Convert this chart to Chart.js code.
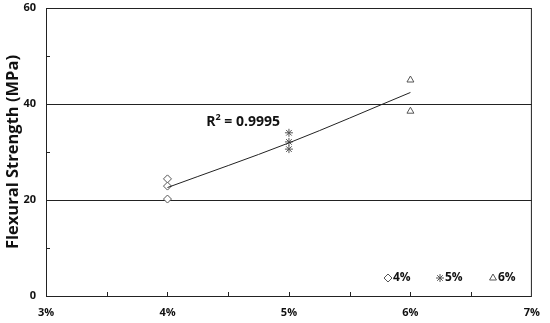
<!DOCTYPE html>
<html lang="en">
<head>
    <meta charset="UTF-8">
    <title>Flexural Strength</title>
    <script src="https://cdn.jsdelivr.net/npm/chart.js"></script>
    <style>
        body { margin: 0; background: #fff; }
        #wrap { width: 550px; height: 323px; }
    </style>
</head>
<body>
    <div id="wrap"><canvas id="chart" width="550" height="323"></canvas></div>

    <script>
        // Data
        const xTicks = [3, 4, 5, 6, 7];
        const yTicks = [0, 20, 40, 60];
        const fiber4 = [24.4, 22.9, 20.2];
        const fiber5 = [34.0, 32.1, 30.6];
        const fiber6 = [45.0, 38.5];
        const trendX = [4, 5, 6];
        const trendY = [22.6, 31.9, 42.4];
        const rSquared = '0.9995';

        const FONT = "'Open Sans', 'Noto Sans', sans-serif";
        const markColor = '#555';

        const pts = (x, arr) => arr.map(v => ({ x: x, y: v }));

        // Border, inner ticks, R² label and in-plot legend
        const extras = {
            id: 'extras',
            afterDraw(chart) {
                const c = chart.ctx;
                const a = chart.chartArea;
                const xs = chart.scales.x, ys = chart.scales.y;
                c.save();
                c.strokeStyle = '#222';
                c.lineWidth = 1;
                c.strokeRect(a.left + 0.5, a.top + 0.5, a.right - a.left - 1, a.bottom - a.top);

                c.beginPath();
                for (let v = 3.5; v < 7; v += 0.5) {
                    const px = Math.round(xs.getPixelForValue(v)) + 0.5;
                    c.moveTo(px, a.bottom);
                    c.lineTo(px, a.bottom - 4);
                }
                for (let v = 10; v < 60; v += 10) {
                    const py = Math.round(ys.getPixelForValue(v)) + 0.5;
                    c.moveTo(a.left, py);
                    c.lineTo(a.left + 4, py);
                }
                c.stroke();

                // R² label
                let tx = xs.getPixelForValue(4.32);
                const ty = ys.getPixelForValue(35.5);
                c.fillStyle = '#111';
                c.textBaseline = 'alphabetic';
                c.font = 'bold 14px ' + FONT;
                c.fillText('R', tx, ty);
                tx += c.measureText('R').width;
                c.font = 'bold 9px ' + FONT;
                c.fillText('2', tx, ty - 6);
                tx += c.measureText('2').width;
                c.font = 'bold 14px ' + FONT;
                c.fillText(' = ' + rSquared, tx, ty);

                // legend
                const ly = a.bottom - 18;
                const items = [
                    { label: '4%', style: 'rectRot' },
                    { label: '5%', style: 'star' },
                    { label: '6%', style: 'triangle' }
                ];
                c.font = 'bold 12px ' + FONT;
                c.textBaseline = 'middle';
                items.forEach((it, i) => {
                    const lx = [388, 440, 493][i];
                    c.strokeStyle = markColor;
                    c.fillStyle = '#fff';
                    c.lineWidth = 1;
                    Chart.helpers.drawPoint(c, { pointStyle: it.style, radius: 4, borderWidth: 1 }, lx, ly);
                    c.fillStyle = '#111';
                    c.fillText(it.label, lx + 5, ly);
                });
                c.restore();
            }
        };

        const markerBase = {
            showLine: false,
            borderColor: markColor,
            backgroundColor: '#fff',
            borderWidth: 1,
            pointRadius: 4,
            pointHoverRadius: 4
        };

        new Chart(document.getElementById('chart'), {
            type: 'scatter',
            data: {
                datasets: [
                    {
                        label: 'trend',
                        data: trendX.map((x, i) => ({ x: x, y: trendY[i] })),
                        showLine: true,
                        borderColor: '#222',
                        borderWidth: 1,
                        pointRadius: 0,
                        cubicInterpolationMode: 'monotone'
                    },
                    Object.assign({ label: '4%', data: pts(4, fiber4), pointStyle: 'rectRot' }, markerBase),
                    Object.assign({ label: '5%', data: pts(5, fiber5), pointStyle: 'star', pointRadius: 5 }, markerBase),
                    Object.assign({ label: '6%', data: pts(6, fiber6), pointStyle: 'triangle' }, markerBase)
                ]
            },
            options: {
                responsive: false,
                animation: false,
                layout: { padding: { top: 8, right: 11, left: 3, bottom: 0 } },
                plugins: {
                    legend: { display: false },
                    tooltip: { enabled: false }
                },
                scales: {
                    x: {
                        type: 'linear',
                        min: 3,
                        max: 7,
                        afterBuildTicks: s => { s.ticks = xTicks.map(v => ({ value: v })); },
                        afterFit: s => { s.height = 27; },
                        grid: { display: false, drawTicks: false },
                        border: { display: false },
                        ticks: {
                            color: '#111',
                            font: { family: FONT, size: 11, weight: 'bold' },
                            padding: 10,
                            maxRotation: 0,
                            callback: v => v + '%'
                        }
                    },
                    y: {
                        min: 0,
                        max: 60,
                        afterBuildTicks: s => { s.ticks = yTicks.map(v => ({ value: v })); },
                        afterFit: s => { s.width = 43; s.paddingTop = 0; s.paddingBottom = 0; },
                        grid: {
                            color: ctx => (ctx.tick && (ctx.tick.value === 20 || ctx.tick.value === 40)) ? '#222' : 'rgba(0,0,0,0)',
                            drawTicks: false
                        },
                        border: { display: false },
                        ticks: {
                            color: '#111',
                            font: { family: FONT, size: 11, weight: 'bold' },
                            padding: 10
                        },
                        title: {
                            display: true,
                            text: 'Flexural Strength (MPa)',
                            color: '#111',
                            font: { family: FONT, size: 16.5, weight: 'bold' },
                            padding: { top: 0, bottom: 2 }
                        }
                    }
                }
            },
            plugins: [extras]
        });
    </script>
</body>
</html>
